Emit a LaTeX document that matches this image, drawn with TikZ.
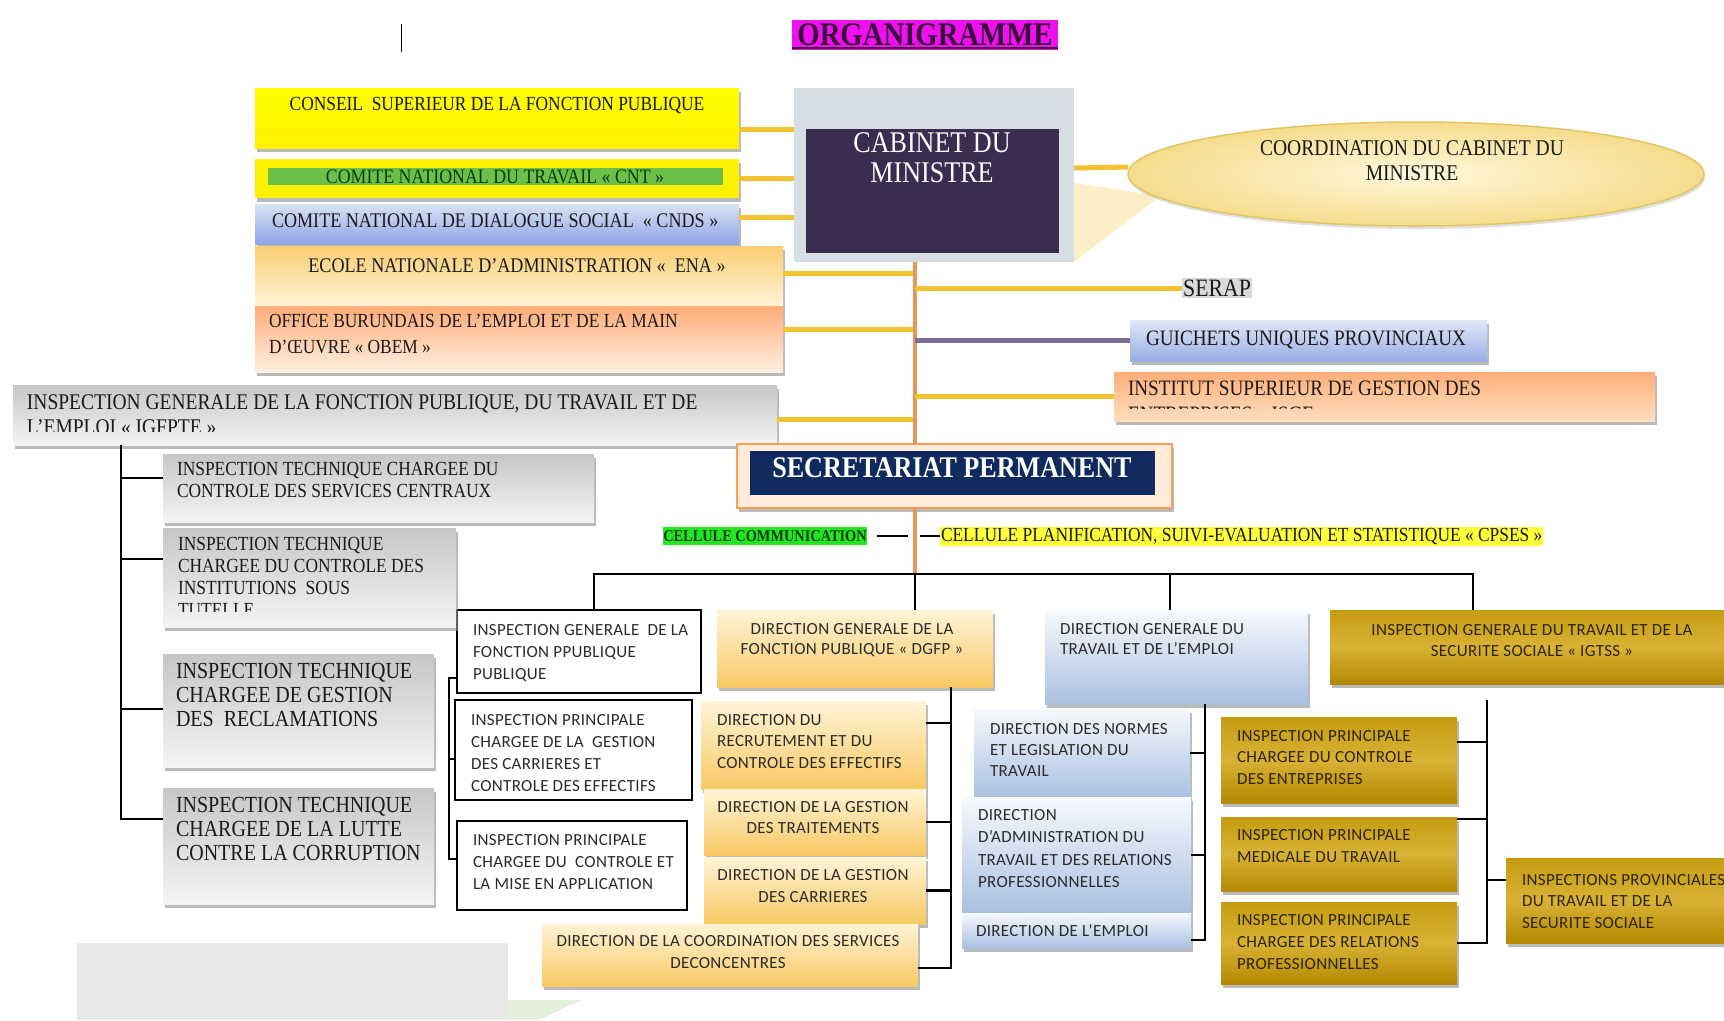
\documentclass[tikz,border=0pt]{standalone}
\usepackage{fontspec}
\newfontfamily\tm{Liberation Serif}[FakeStretch=0.87]
\newfontfamily\cb{Carlito}[LetterSpace=2]
\usetikzlibrary{shadows,shapes.geometric}
\newcommand{\fsz}[2]{\fontsize{#1}{#2}\selectfont}
\definecolor{cmag}{HTML}{EE10EE}
\definecolor{ctitle}{HTML}{3B0A3B}
\definecolor{cyel}{HTML}{F1C232}
\definecolor{corgL}{HTML}{EA955A}
\definecolor{cpur}{HTML}{7B6F95}
\definecolor{cab1}{HTML}{3B2D4F}
\definecolor{cab2}{HTML}{D7DDE5}
\definecolor{cel1}{HTML}{FFF8DC}
\definecolor{cel2}{HTML}{F6DC8C}
\definecolor{cel3}{HTML}{E3C565}
\definecolor{cwedge}{HTML}{FCEFC8}
\definecolor{cser}{HTML}{D9D9D9}
\definecolor{cnavy}{HTML}{0F2B5E}
\definecolor{cgrn}{HTML}{6CC04A}
\definecolor{cgrn2}{HTML}{22E622}
\definecolor{cdkg}{HTML}{0B3B0B}
\definecolor{cyl2}{HTML}{FFFF3A}
\definecolor{cg1}{HTML}{C6C6C6}
\definecolor{cg2}{HTML}{F4F4F4}
\definecolor{co1}{HTML}{FFF4D6}
\definecolor{co2}{HTML}{F8C864}
\definecolor{cb1}{HTML}{F6F9FD}
\definecolor{cb2}{HTML}{A9C0E2}
\definecolor{cd1}{HTML}{C59C10}
\definecolor{cd2}{HTML}{B48800}
\definecolor{cd3}{HTML}{D8B235}
\definecolor{ctxt}{HTML}{2B2B2B}
\definecolor{cgt}{HTML}{2E2400}
\definecolor{ctx}{HTML}{1A1A1A}
\definecolor{clgray}{HTML}{E8E6E7}
\definecolor{clgreen}{HTML}{E3F1DA}
\tikzset{
  every node/.style={inner sep=0pt,outer sep=0pt},
  bx/.style={rectangle,anchor=north west},
  shd/.style={drop shadow={shadow xshift=2pt,shadow yshift=-4pt,fill=black!45,opacity=.6}},
  gbx/.style={bx,shd,top color=cg1,bottom color=cg2},
  obx/.style={bx,shd,top color=co1,bottom color=co2},
  bbx/.style={bx,shd,top color=cb1,bottom color=cb2},
  dbx/.style={bx,shd,top color=cd1,bottom color=cd2,middle color=cd3},
  wbx/.style={bx,fill=white,draw=black,line width=1.3pt},
  sf/.style n args={2}{font=\tm\fsz{#1}{#2},text=ctx},
  cl/.style={font=\cb\fsz{17}{#1},text=ctxt},
  cl/.default=22,
  tl/.style={anchor=north west,align=left},
  tc/.style={anchor=north,align=center},
  cy/.style={draw=cyel,line width=5pt},
  blk/.style={draw=black,line width=2.6pt},
}
\begin{document}
\begin{tikzpicture}[x=1pt,y=-1pt]
\useasboundingbox (0,0) rectangle (1724,1020);
\fill[white] (0,0) rectangle (1724,1020);

% title
\node[bx,fill=cmag,minimum width=266pt,minimum height=30pt] (title) at (792,20) {};
\node[font=\tm\bfseries\fsz{33}{35},text=ctitle] (ttitle) at (925,35) {ORGANIGRAMME};
\draw[ctitle,line width=2.2pt] ([yshift=2pt]title.south west) -- ([yshift=2pt]title.south east);
\draw[line width=1pt] (401,24) -- (401,52);

% top-left bodies
\node[bx,shd,top color=yellow,bottom color=yellow!90!orange,minimum width=484pt,minimum height=60pt] (conseil) at (255,88) {};
\node[tc,sf={20}{22}] (tconseil) at (497,97) {CONSEIL\ \ SUPERIEUR DE LA FONCTION PUBLIQUE};
\node[bx,shd,fill=yellow,minimum width=484pt,minimum height=39pt] (cnt) at (255,159) {};
\node[bx,fill=cgrn,minimum width=455pt,minimum height=17pt] (cntband) at (268,168) {};
\node[sf={20.5}{22},text=cdkg] (tcnt) at (495,177) {COMITE NATIONAL DU TRAVAIL « CNT »};
\node[bx,shd,top color=cb1!60!cb2,bottom color=cb2!85!blue,minimum width=484pt,minimum height=40pt] (cnds) at (255,204) {};
\node[anchor=west,sf={20.8}{22}] (tcnds) at (272,221) {COMITE NATIONAL DE DIALOGUE SOCIAL\ \ « CNDS »};
\node[bx,shd,top color=co2!90!white,bottom color=co1,minimum width=528pt,minimum height=60pt] (ena) at (255,246) {};
\node[tc,sf={20.8}{22}] (tena) at (517,259) {ECOLE NATIONALE D’ADMINISTRATION «\ \ ENA »};
\node[bx,shd,top color=orange!45!pink!90!white,bottom color=orange!12!white,minimum width=528pt,minimum height=66pt] (obem) at (255,306) {};
\node[tl,sf={20}{26}] (tobem) at (269,314) {OFFICE BURUNDAIS DE L’EMPLOI ET DE LA MAIN\\D’ŒUVRE « OBEM »};
\node[gbx,minimum width=764pt,minimum height=60pt] (igfpte) at (13,385) {};
\begin{scope}
\clip (13,385) rectangle (777,431);
\node[tl,sf={22.4}{25}] (tigfpte) at (27,395) {INSPECTION GENERALE DE LA FONCTION PUBLIQUE, DU TRAVAIL ET DE\\L’EMPLOI « IGFPTE »};
\end{scope}

% cabinet
\node[bx,fill=cab2,minimum width=280pt,minimum height=174pt] (cabinet) at (794,88) {};
\node[bx,fill=cab1,minimum width=253pt,minimum height=124pt] (cabin) at (806,129) {};
\node[tc,font=\tm\fsz{30}{30},text=white] (tcab) at (932,133) {CABINET DU\\MINISTRE};

% coordination
\fill[cwedge] (1074,183) -- (1160,196) -- (1074,262) -- cycle;
\node[ellipse,minimum width=576pt,minimum height=104pt,inner color=cel1,outer color=cel2,draw=cel3,line width=1.5pt,drop shadow={shadow xshift=1pt,shadow yshift=-3pt,fill=black!30,opacity=.4}] (coord) at (1416,174) {};
\node[tc,sf={22.5}{25}] (tcoord) at (1412,141) {COORDINATION DU CABINET DU\\MINISTRE};

% right side
\node[fill=cser,inner sep=1.5pt,sf={25}{27}] (serap) at (1217,288) {SERAP};
\node[bx,shd,top color=cb1!70!cb2,bottom color=cb2!90!blue,minimum width=357pt,minimum height=41pt] (guich) at (1130,320) {};
\node[anchor=west,sf={22}{24}] (tguich) at (1146,340) {GUICHETS UNIQUES PROVINCIAUX};
\node[bx,shd,top color=orange!50!pink!85!white,bottom color=orange!25!white,minimum width=541pt,minimum height=49pt] (inst) at (1114,372) {};
\begin{scope}
\clip (1114,372) rectangle (1655,408.5);
\node[tl,sf={22}{26}] (tinst) at (1128,381) {INSTITUT SUPERIEUR DE GESTION DES\\ENTREPRISES « ISGE »};
\end{scope}

% secretariat
\node[bx,shd,fill=orange!15!white,draw=orange!55!pink,line width=2pt,minimum width=435pt,minimum height=64pt] (sp) at (737,444) {};
\node[bx,fill=cnavy,minimum width=405pt,minimum height=44pt] (spin) at (750,451) {};
\node[font=\tm\bfseries\fsz{30}{30},text=white] (tsp) at (952,468) {SECRETARIAT PERMANENT};

% cellules
\node[fill=cgrn2,minimum width=203pt,minimum height=18pt,font=\tm\bfseries\fsz{16.5}{17},text=cdkg] (ccom) at (765,536) {CELLULE COMMUNICATION};
\node[anchor=west,fill=cyl2,minimum height=19pt,inner xsep=1pt,sf={20}{21}] (cplan) at (940,536) {CELLULE PLANIFICATION, SUIVI-EVALUATION ET STATISTIQUE « CPSES »};

% level 2
\node[wbx,minimum width=244pt,minimum height=83pt] (igfp) at (457,610) {};
\node[tl,cl] (tigfp) at (473,624) {INSPECTION GENERALE\ \ DE LA\\FONCTION PPUBLIQUE\\PUBLIQUE};
\node[obx,minimum width=276pt,minimum height=77pt] (dgfp) at (717,610) {};
\node[tc,cl=20] (tdgfp) at (852,623) {DIRECTION GENERALE DE LA\\FONCTION PUBLIQUE « DGFP »};
\node[bbx,minimum width=263pt,minimum height=94pt] (dgte) at (1045,610) {};
\node[tl,cl=20] (tdgte) at (1060,623) {DIRECTION GENERALE DU\\TRAVAIL ET DE L’EMPLOI};
\node[dbx,minimum width=394pt,minimum height=74pt] (igtss) at (1330,610) {};
\node[tc,cl=21,text=cgt] (tigtss) at (1532,624) {INSPECTION GENERALE DU TRAVAIL ET DE LA\\SECURITE SOCIALE « IGTSS »};

% left column
\node[gbx,minimum width=431pt,minimum height=68pt] (itc1) at (163,454) {};
\node[tl,sf={20}{22}] (titc1) at (177,462) {INSPECTION TECHNIQUE CHARGEE DU\\CONTROLE DES SERVICES CENTRAUX};
\node[gbx,minimum width=293pt,minimum height=99pt] (itc2) at (163,528) {};
\begin{scope}
\clip (163,528) rectangle (456,611);
\node[tl,sf={20}{22}] (titc2) at (178,537) {INSPECTION TECHNIQUE\\CHARGEE DU CONTROLE DES\\INSTITUTIONS\ \ SOUS\\TUTELLE};
\end{scope}
\node[gbx,minimum width=271pt,minimum height=113pt] (itc3) at (163,654) {};
\node[tl,sf={23}{24}] (titc3) at (176,663) {INSPECTION TECHNIQUE\\CHARGEE DE GESTION\\DES\ \ RECLAMATIONS};
\node[gbx,minimum width=271pt,minimum height=116pt] (itc4) at (163,788) {};
\node[tl,sf={23}{24}] (titc4) at (176,797) {INSPECTION TECHNIQUE\\CHARGEE DE LA LUTTE\\CONTRE LA CORRUPTION};

% IGFP subs
\node[wbx,minimum width=237pt,minimum height=100pt] (ipc1) at (455,700) {};
\node[tl,cl] (tipc1) at (471,714) {INSPECTION PRINCIPALE\\CHARGEE DE LA\ \ GESTION\\DES CARRIERES ET\\CONTROLE DES EFFECTIFS};
\node[wbx,minimum width=230pt,minimum height=89pt] (ipc2) at (457,821) {};
\node[tl,cl] (tipc2) at (473,834) {INSPECTION PRINCIPALE\\CHARGEE DU\ \ CONTROLE ET\\LA MISE EN APPLICATION};

% DGFP subs
\node[obx,minimum width=225pt,minimum height=88pt] (drce) at (701,701) {};
\node[tl,cl=21.5] (tdrce) at (717,714) {DIRECTION DU\\RECRUTEMENT ET DU\\CONTROLE DES EFFECTIFS};
\node[obx,minimum width=222pt,minimum height=66pt] (dgt) at (704,789) {};
\node[tc,cl=21] (tdgt) at (813,801) {DIRECTION DE LA GESTION\\DES TRAITEMENTS};
\node[obx,minimum width=222pt,minimum height=67pt] (dgc) at (704,857) {};
\node[tc,cl] (tdgc) at (813,869) {DIRECTION DE LA GESTION\\DES CARRIERES};
\node[obx,minimum width=376pt,minimum height=62pt] (dcsd) at (542,924) {};
\node[tc,cl] (tdcsd) at (728,935) {DIRECTION DE LA COORDINATION DES SERVICES\\DECONCENTRES};

% DGTE subs
\node[bbx,minimum width=216pt,minimum height=88pt] (dnlt) at (974,709) {};
\node[tl,cl=21] (tdnlt) at (990,723) {DIRECTION DES NORMES\\ET LEGISLATION DU\\TRAVAIL};
\node[bbx,minimum width=229pt,minimum height=116pt] (datrp) at (962,797) {};
\node[tl,cl=22.5] (tdatrp) at (978,809) {DIRECTION\\D’ADMINISTRATION DU\\TRAVAIL ET DES RELATIONS\\PROFESSIONNELLES};
\node[bbx,minimum width=229pt,minimum height=35pt] (de) at (962,913) {};
\node[anchor=west,cl] (tde) at (976,931) {DIRECTION DE L’EMPLOI};

% IGTSS subs
\node[dbx,minimum width=236pt,minimum height=86pt] (ipce) at (1221,717) {};
\node[tl,cl=21.5,text=cgt] (tipce) at (1237,730) {INSPECTION PRINCIPALE\\CHARGEE DU CONTROLE\\DES ENTREPRISES};
\node[dbx,minimum width=236pt,minimum height=74pt] (ipmt) at (1221,817) {};
\node[tl,cl,text=cgt] (tipmt) at (1237,829) {INSPECTION PRINCIPALE\\MEDICALE DU TRAVAIL};
\node[dbx,minimum width=236pt,minimum height=82pt] (ipcr) at (1221,902) {};
\node[tl,cl,text=cgt] (tipcr) at (1237,914) {INSPECTION PRINCIPALE\\CHARGEE DES RELATIONS\\PROFESSIONNELLES};
\node[dbx,minimum width=218pt,minimum height=85pt] (iptss) at (1506,858) {};
\node[tl,cl=21.5,text=cgt] (tiptss) at (1522,874) {INSPECTIONS PROVINCIALES\\DU TRAVAIL ET DE LA\\SECURITE SOCIALE};

% bottom-left shapes
\fill[clgray] (77,943) rectangle (508,1020);
\fill[clgreen] (508,1000) -- (581,1000) -- (539,1020) -- (508,1020) -- cycle;

% ---------- connectors ----------
\coordinate (tk) at (915,0);
\coordinate (bus) at (0,574);
\draw[cy] ([yshift=-11pt]conseil.east) -- ([yshift=-11pt]conseil.east -| cabinet.west);
\draw[cy] (cnt.east) -- (cnt.east -| cabinet.west);
\draw[cy] ([yshift=7pt]cnds.east) -- ([yshift=7pt]cnds.east -| cabinet.west);
\draw[cy] ([yshift=3pt]ena.east) -- ([yshift=3pt]ena.east -| tk);
\draw[cy] ([yshift=10pt]obem.east) -- ([yshift=10pt]obem.east -| tk);
\draw[cy] ([yshift=-4pt]igfpte.east) -- ([yshift=-4pt]igfpte.east -| tk);
\draw[cy] ([yshift=7pt]cabinet.east) -- ([yshift=7pt]coord.west);
\draw[draw=corgL,line width=4pt] (cabinet.south -| tk) -- (sp.north -| tk);
\draw[draw=corgL,line width=4pt] (sp.south -| tk) -- (tk |- bus);
\draw[cy] (tk |- serap.west) -- (serap.west);
\draw[draw=cpur,line width=5pt] (tk |- guich.west) -- (guich.west);
\draw[cy] (tk |- inst.west) -- (inst.west);
\coordinate (cc) at (tk |- ccom.east);
\draw[black,line width=2pt] ([xshift=10pt]ccom.east) -- ([xshift=-7pt]cc);
\draw[black,line width=2pt] ([xshift=5pt]cc) -- (cplan.west);

% bus
\coordinate (v1) at ([xshift=137pt]igfp.north west);
\coordinate (v2) at ([xshift=198pt]dgfp.north west);
\coordinate (v3) at ([xshift=125pt]dgte.north west);
\coordinate (v4) at ([xshift=143pt]igtss.north west);
\draw[blk] (v1) -- (v1 |- bus) -- (v4 |- bus) -- (v4);
\draw[blk] (v2 |- bus) -- (v2);
\draw[blk] (v3 |- bus) -- (v3);

% left column
\coordinate (lb) at (121,0);
\coordinate (k1) at ([shift={(0,24)}]itc1.north west);
\coordinate (k2) at ([shift={(0,31)}]itc2.north west);
\coordinate (k3) at ([shift={(0,55)}]itc3.north west);
\coordinate (k4) at ([shift={(0,31)}]itc4.north west);
\draw[blk] (igfpte.south -| lb) -- (k4 -| lb) -- (k4);
\draw[blk] (k1 -| lb) -- (k1);
\draw[blk] (k2 -| lb) -- (k2);
\draw[blk] (k3 -| lb) -- (k3);

% IGFP bracket
\coordinate (br) at (449,0);
\coordinate (b1) at ([shift={(0,68)}]igfp.north west);
\coordinate (b2) at ([shift={(0,59)}]ipc1.north west);
\coordinate (b3) at ([shift={(0,38)}]ipc2.north west);
\draw[black,line width=2pt] (b1) -- (b1 -| br) -- (b3 -| br) -- (b3);
\draw[black,line width=2pt] (b2 -| br) -- (b2);

% DGFP line
\coordinate (dx) at (951,0);
\coordinate (d1) at ([shift={(0,22)}]drce.north east);
\coordinate (d4) at ([shift={(0,44)}]dcsd.north east);
\draw[blk] (dgfp.south -| dx) -- (d4 -| dx) -- (d4);
\draw[blk] (d1) -- (d1 -| dx);
\draw[blk] (dgt.east) -- (dgt.east -| dx);
\draw[blk] (dgc.east) -- (dgc.east -| dx);

% DGTE line
\coordinate (ex) at (1205,0);
\coordinate (e3) at ([shift={(0,-8)}]de.south east);
\draw[blk] (dgte.south -| ex) -- (e3 -| ex) -- (e3);
\draw[blk] (dnlt.east) -- (dnlt.east -| ex);
\draw[blk] (datrp.east) -- (datrp.east -| ex);

% IGTSS line
\coordinate (gtop) at (1487,700);
\coordinate (g1) at ([shift={(0,25)}]ipce.north east);
\coordinate (g2) at ([shift={(0,2)}]ipmt.north east);
\coordinate (g4) at ([shift={(0,22)}]iptss.north west);
\draw[blk] (gtop) -- (gtop |- ipcr.east) -- (ipcr.east);
\draw[blk] (g1) -- (g1 -| gtop);
\draw[blk] (g2) -- (g2 -| gtop);
\draw[blk] (g4 -| gtop) -- (g4);
\end{tikzpicture}
\end{document}
